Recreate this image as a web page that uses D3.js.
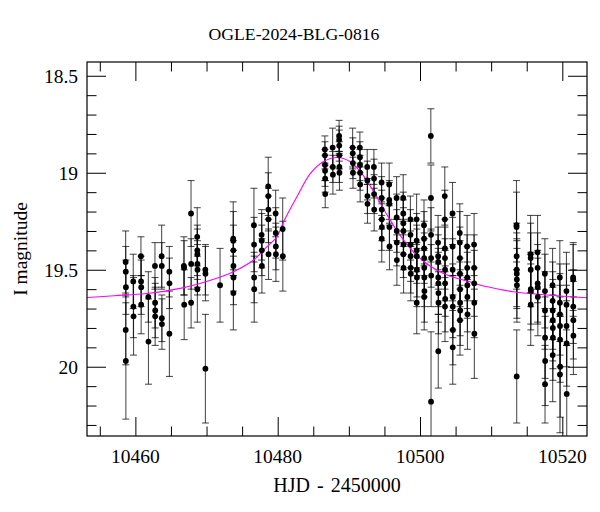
<!DOCTYPE html>
<html><head><meta charset="utf-8">
<script src="https://cdn.jsdelivr.net/npm/d3@7"></script>
<style>body{margin:0;background:#fff}svg{display:block}</style>
</head><body><svg id="c" width="600" height="512"></svg>
<script>
const title = "OGLE-2024-BLG-0816";
const xLabel = "HJD - 2450000";
const yLabel = "I magnitude";
const xMajor = [10460, 10480, 10500, 10520];
const xMinor = [10455, 10465, 10470, 10475, 10485, 10490, 10495, 10505, 10510, 10515];
const yMajor = [18.5, 19, 19.5, 20];
const yMinor = [18.6, 18.7, 18.8, 18.9, 19.1, 19.2, 19.3, 19.4, 19.6, 19.7, 19.8, 19.9, 20.1, 20.2, 20.3];
const yTickLabels = ["18.5", "19", "19.5", "20"];

const hjd = [
10458.63,10458.65,10458.67,10458.64,10458.66,
10459.70,10459.72,10459.74,
10460.78,10460.80,10460.82,10460.81,
10461.82,10461.84,
10462.75,10462.77,10462.79,10462.78,
10463.69,10463.71,10463.72,10463.73,
10464.77,10464.79,10464.78,
10466.82,10466.84,10466.86,
10467.82,10467.84,10467.83,
10468.69,10468.70,10468.71,10468.72,10468.73,10468.71,
10469.83,10469.85,10469.84,
10471.90,
10473.75,10473.76,10473.77,10473.78,10473.79,10473.77,
10476.66,10476.68,10476.69,10476.70,
10477.74,10477.76,10477.77,10477.78,
10478.67,10478.68,10478.69,10478.70,10478.71,
10479.71,10479.73,10479.74,10479.75,
10480.70,10480.72,
10486.63,10486.64,10486.65,10486.66,10486.67,10486.68,
10487.72,10487.74,10487.76,
10488.63,10488.64,10488.65,10488.66,10488.67,10488.68,
10490.53,10490.55,10490.57,10490.58,
10491.55,10491.56,10491.57,10491.58,10491.59,
10492.58,10492.60,10492.61,10492.62,
10493.52,10493.54,10493.55,10493.56,
10494.60,10494.61,10494.62,10494.63,10494.64,10494.62,
10495.67,10495.68,10495.69,10495.70,10495.71,
10496.71,10496.72,10496.73,10496.74,10496.75,
10497.64,10497.65,10497.66,10497.67,10497.68,10497.66,10497.69,
10498.65,10498.66,10498.67,10498.68,10498.69,10498.70,
10499.52,10499.53,10499.54,10499.55,10499.56,10499.57,10499.54,
10500.56,10500.57,10500.58,10500.59,10500.60,10500.61,10500.62,10500.59,
10501.52,10501.54,10501.55,10501.56,10501.57,10501.55,
10502.54,10502.55,10502.56,10502.57,10502.58,10502.59,10502.60,10502.57,
10503.48,10503.49,10503.50,10503.51,10503.52,10503.53,10503.54,10503.51,
10504.57,10504.58,10504.59,10504.60,10504.61,10504.62,10504.60,
10505.59,10505.60,10505.61,10505.62,10505.63,10505.64,10505.65,10505.62,
10506.62,10506.63,10506.64,10506.65,10506.66,10506.67,
10507.60,10507.61,10507.62,10507.63,10507.64,
10513.56,10513.57,10513.58,10513.59,10513.60,10513.61,10513.62,10513.59,
10515.54,10515.55,10515.56,10515.57,10515.58,10515.56,
10516.52,10516.53,10516.54,10516.55,10516.56,
10517.55,10517.56,10517.57,10517.58,10517.59,10517.57,
10518.63,10518.64,10518.65,10518.66,10518.67,10518.68,10518.65,
10519.65,10519.66,10519.67,10519.68,10519.69,10519.70,10519.67,
10520.58,10520.59,10520.60,10520.61,10520.62,
10521.52,10521.53,10521.54,10521.55,10521.56
];
const mag = [
19.46,19.51,19.59,19.81,19.97,
19.56,19.69,19.74,
19.43,19.56,19.59,19.68,
19.64,19.87,
19.48,19.67,19.71,19.74,
19.43,19.48,19.75,19.78,
19.51,19.57,19.83,
19.48,19.49,19.68,
19.21,19.47,19.67,
19.33,19.40,19.42,19.47,19.50,19.60,
19.50,19.52,20.01,
19.58,
19.34,19.35,19.40,19.48,19.54,19.62,
19.27,19.37,19.54,19.60,
19.32,19.35,19.40,19.48,
19.07,19.12,19.19,19.24,19.42,
19.21,19.31,19.38,19.42,
19.29,19.43,
18.88,18.91,18.96,18.99,19.03,19.11,
18.87,18.97,19.01,
18.81,18.83,18.86,18.91,18.97,19.00,
18.87,18.90,18.95,19.00,
18.87,18.92,18.96,19.00,19.06,
18.97,19.04,19.12,19.16,
18.97,19.03,19.11,19.19,
19.05,19.13,19.19,19.24,19.28,19.34,
19.06,19.14,19.16,19.28,19.38,
19.13,19.23,19.30,19.36,19.45,
19.13,19.21,19.26,19.30,19.37,19.42,19.49,
19.24,19.32,19.37,19.43,19.49,19.52,
19.24,19.35,19.40,19.43,19.50,19.54,19.67,
19.27,19.34,19.39,19.44,19.49,19.54,19.61,19.64,
18.81,19.13,19.32,19.44,19.53,20.18,
19.36,19.43,19.46,19.54,19.57,19.62,19.67,19.92,
19.12,19.24,19.39,19.44,19.50,19.57,19.65,19.69,
19.21,19.38,19.50,19.64,19.69,19.81,19.90,
19.31,19.36,19.44,19.52,19.60,19.67,19.71,19.76,
19.38,19.49,19.54,19.58,19.64,19.73,
19.37,19.49,19.57,19.67,19.83,
19.27,19.28,19.43,19.50,19.52,19.55,19.58,20.05,
19.42,19.44,19.50,19.60,19.61,19.68,
19.41,19.49,19.57,19.59,19.64,
19.52,19.61,19.71,19.85,19.97,20.09,
19.58,19.66,19.71,19.76,19.80,19.85,19.94,
19.54,19.67,19.73,19.79,19.86,20.00,20.04,
19.61,19.68,19.79,19.88,20.14,
19.54,19.55,19.69,19.76,19.84
];
const err = [
0.16,0.13,0.14,0.18,0.30,
0.14,0.16,0.20,
0.10,0.13,0.14,0.15,
0.13,0.22,
0.12,0.13,0.14,0.15,
0.16,0.12,0.12,0.13,
0.13,0.13,0.22,
0.15,0.14,0.18,
0.17,0.13,0.13,
0.15,0.13,0.13,0.12,0.13,0.17,
0.13,0.14,0.28,
0.19,
0.19,0.15,0.13,0.13,0.14,0.19,
0.19,0.14,0.13,0.17,
0.13,0.14,0.13,0.14,
0.15,0.12,0.11,0.12,0.13,
0.12,0.13,0.12,0.14,
0.16,0.18,
0.07,0.07,0.08,0.08,0.07,0.07,
0.10,0.08,0.10,
0.08,0.07,0.08,0.07,0.08,0.09,
0.10,0.08,0.08,0.08,
0.08,0.08,0.08,0.09,0.09,
0.09,0.10,0.09,0.10,
0.09,0.10,0.10,0.11,
0.10,0.11,0.10,0.11,0.12,0.12,
0.11,0.10,0.11,0.12,0.12,
0.11,0.12,0.11,0.12,0.13,
0.12,0.11,0.12,0.12,0.13,0.12,0.13,
0.12,0.13,0.12,0.13,0.13,0.14,
0.13,0.14,0.13,0.14,0.14,0.15,0.16,
0.13,0.14,0.14,0.13,0.15,0.15,0.16,0.17,
0.14,0.17,0.14,0.15,0.16,0.36,
0.14,0.15,0.14,0.15,0.16,0.15,0.16,0.19,
0.15,0.15,0.15,0.16,0.16,0.17,0.17,0.18,
0.16,0.15,0.16,0.17,0.16,0.18,0.19,
0.15,0.16,0.16,0.17,0.16,0.17,0.18,0.18,
0.16,0.17,0.16,0.17,0.18,0.18,
0.16,0.17,0.17,0.18,0.23,
0.23,0.18,0.17,0.19,0.18,0.20,0.19,0.24,
0.20,0.18,0.19,0.18,0.20,0.21,
0.19,0.18,0.20,0.19,0.20,
0.18,0.19,0.20,0.21,0.23,0.20,
0.19,0.20,0.20,0.21,0.21,0.22,0.24,
0.19,0.20,0.21,0.21,0.22,0.26,0.30,
0.20,0.21,0.21,0.22,0.25,
0.17,0.19,0.19,0.20,0.20
];

const modelHJD = [10453.2,10457.0,10461.6,10466.3,10471.0,10473.8,10476.6,10478.5,10479.9,10480.8,10482.7,10484.6,10486.4,10488.3,10490.2,10492.0,10493.9,10495.8,10497.7,10499.5,10501.4,10503.3,10505.2,10507.0,10508.4,10510.8,10513.1,10517.8,10523.5];
const modelMag = [19.643,19.634,19.622,19.596,19.549,19.510,19.450,19.381,19.330,19.255,19.124,19.003,18.943,18.921,18.943,19.012,19.124,19.244,19.347,19.424,19.481,19.519,19.544,19.562,19.579,19.598,19.613,19.630,19.644];

const W = 600, H = 512;
const m = {left: 87, right: 587, top: 62, bottom: 436};
const x = d3.scaleLinear().domain([10453.2, 10523.47]).range([m.left, m.right]);
const y = d3.scaleLinear().domain([18.429, 20.357]).range([m.top, m.bottom]);

const svg = d3.select("#c");
const font = "'Liberation Serif', 'Times New Roman', serif";

svg.append("defs").append("clipPath").attr("id", "clip")
  .append("rect").attr("x", m.left).attr("y", m.top)
  .attr("width", m.right - m.left).attr("height", m.bottom - m.top);

const pts = hjd.map((t, i) => ({t, m: mag[i], e: err[i]}));
const g = svg.append("g").attr("clip-path", "url(#clip)");

// error bars
const eb = g.append("g").attr("stroke", "#000").attr("stroke-opacity", 0.68).attr("stroke-width", 1.1);
pts.forEach(p => {
  const cx = x(p.t), y1 = y(p.m - p.e), y2 = y(p.m + p.e);
  eb.append("line").attr("x1", cx).attr("x2", cx).attr("y1", y1).attr("y2", y2);
  eb.append("line").attr("x1", cx - 3.5).attr("x2", cx + 3.5).attr("y1", y1).attr("y2", y1);
  eb.append("line").attr("x1", cx - 3.5).attr("x2", cx + 3.5).attr("y1", y2).attr("y2", y2);
});

// model
g.append("path")
  .datum(modelHJD.map((t, i) => [t, modelMag[i]]))
  .attr("fill", "none").attr("stroke", "#ff00ff").attr("stroke-width", 1.1)
  .attr("d", d3.line().x(d => x(d[0])).y(d => y(d[1])).curve(d3.curveCatmullRom));

// points
g.append("g").selectAll("circle").data(pts).join("circle")
  .attr("cx", d => x(d.t)).attr("cy", d => y(d.m)).attr("r", 2.9).attr("fill", "#000");

// axes with inward ticks on all sides
function addAxis(axisFn, scale, vals, size, transform) {
  svg.append("g").attr("transform", transform)
    .call(axisFn(scale).tickValues(vals).tickSize(-size).tickFormat(""))
    .call(s => s.select(".domain").remove())
    .call(s => s.selectAll("line").attr("stroke", "#000"));
}
addAxis(d3.axisBottom, x, xMajor, 19, `translate(0,${m.bottom})`);
addAxis(d3.axisBottom, x, xMinor, 9.5, `translate(0,${m.bottom})`);
addAxis(d3.axisTop, x, xMajor, 19, `translate(0,${m.top})`);
addAxis(d3.axisTop, x, xMinor, 9.5, `translate(0,${m.top})`);
addAxis(d3.axisLeft, y, yMajor, 19, `translate(${m.left},0)`);
addAxis(d3.axisLeft, y, yMinor, 9.5, `translate(${m.left},0)`);
addAxis(d3.axisRight, y, yMajor, 19, `translate(${m.right},0)`);
addAxis(d3.axisRight, y, yMinor, 9.5, `translate(${m.right},0)`);

svg.append("rect").attr("x", m.left).attr("y", m.top)
  .attr("width", m.right - m.left).attr("height", m.bottom - m.top)
  .attr("fill", "none").attr("stroke", "#000").attr("stroke-width", 1.2);

// labels
svg.append("g").selectAll("text").data(xMajor).join("text")
  .attr("x", d => x(d)).attr("y", 463).attr("text-anchor", "middle")
  .attr("font-family", font).attr("font-size", 19.5).text(d => d);
svg.append("g").selectAll("text").data(yMajor).join("text")
  .attr("x", 78).attr("y", d => y(d)).attr("dy", "0.35em").attr("text-anchor", "end")
  .attr("font-family", font).attr("font-size", 19.5).text((d, i) => yTickLabels[i]);

svg.append("text").attr("x", (m.left + m.right) / 2).attr("y", 492).attr("text-anchor", "middle")
  .attr("font-family", font).attr("font-size", 20).attr("word-spacing", 2).text(xLabel);
svg.append("text").attr("transform", `translate(27,${(m.top + m.bottom) / 2}) rotate(-90)`)
  .attr("text-anchor", "middle").attr("font-family", font).attr("font-size", 19.5).text(yLabel);
svg.append("text").attr("x", 294).attr("y", 40).attr("text-anchor", "middle")
  .attr("font-family", font).attr("font-size", 17.7).text(title);
</script></body></html>
